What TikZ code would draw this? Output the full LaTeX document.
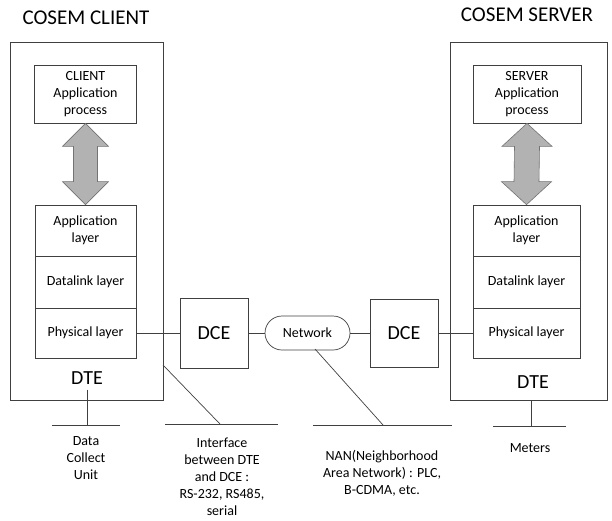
\documentclass[tikz,border=0pt]{standalone}
\usepackage{fontspec}
\setmainfont{Carlito}
\usetikzlibrary{calc}
\begin{document}
\begin{tikzpicture}[x=1pt,y=-1pt,
  ln/.style={draw=black!75, line width=0.7pt},
  box/.style={ln, inner sep=0pt, align=center, font=\fontsize{14}{17}\selectfont},
  big/.style={inner sep=0pt, font=\fontsize{20}{24}\selectfont},
  ttl/.style={inner sep=0pt, font=\fontsize{21}{25}\selectfont},
  lbl/.style={inner sep=0pt, align=center, font=\fontsize{14}{17}\selectfont},
  dbl/.style={fill=black!30, draw=black!55, line width=0.6pt}]
\useasboundingbox (0,0) rectangle (612,520);
% client
\node[box, minimum width=153pt, minimum height=358pt] (cliOuter) at (86.5,221) {};
\node[ttl] (cliTitle) at (86,18) {COSEM CLIENT};
\node[box, minimum width=102pt, minimum height=58pt] (cliApp) at (85.5,94) {CLIENT\\Application\\process};
\node[box, minimum width=101pt, minimum height=51pt] (cliAL) at (85.5,230.5) {Application\\layer};
\node[box, minimum width=101pt, minimum height=52pt] (cliDL) at (85.5,282) {Datalink layer};
\node[box, minimum width=101pt, minimum height=50pt] (cliPL) at (85.5,333) {Physical layer};
\node[big] (cliDTE) at (87,378) {DTE};
\coordinate (ca1) at (cliApp.south);
\coordinate (ca2) at (cliAL.north);
\draw[dbl] (ca1) -- ($(ca1)+(23,23)$) -- ($(ca1)+(12,23)$) -- ($(ca2)+(12,-23)$) -- ($(ca2)+(23,-23)$) -- (ca2) -- ($(ca2)+(-23,-23)$) -- ($(ca2)+(-12,-23)$) -- ($(ca1)+(-12,23)$) -- ($(ca1)+(-23,23)$) -- cycle;
% server
\node[box, minimum width=157pt, minimum height=358pt] (srvOuter) at (528.5,221) {};
\node[ttl] (srvTitle) at (527,15) {COSEM SERVER};
\node[box, minimum width=108pt, minimum height=58pt] (srvApp) at (527,94) {SERVER\\Application\\process};
\node[box, minimum width=107pt, minimum height=51pt] (srvAL) at (526.5,230.5) {Application\\layer};
\node[box, minimum width=107pt, minimum height=52pt] (srvDL) at (526.5,282) {Datalink layer};
\node[box, minimum width=107pt, minimum height=50pt] (srvPL) at (526.5,333) {Physical layer};
\node[big] (srvDTE) at (533,382) {DTE};
\coordinate (sa1) at (srvApp.south);
\coordinate (sa2) at (srvAL.north);
\draw[dbl] (sa1) -- ($(sa1)+(25,23)$) -- ($(sa1)+(12.5,23)$) -- ($(sa2)+(12.5,-23)$) -- ($(sa2)+(25,-23)$) -- (sa2) -- ($(sa2)+(-25,-23)$) -- ($(sa2)+(-12.5,-23)$) -- ($(sa1)+(-12.5,23)$) -- ($(sa1)+(-25,23)$) -- cycle;
% middle
\node[box, font=\fontsize{20}{24}\selectfont, minimum width=68pt, minimum height=70pt] (dce1) at (214,333) {DCE};
\node[box, rounded corners=17pt, minimum width=85pt, minimum height=34pt] (net) at (307.5,333) {Network};
\node[box, font=\fontsize{20}{24}\selectfont, minimum width=68pt, minimum height=68pt] (dce2) at (404,333) {DCE};
\draw[ln] (cliPL.east) -- (dce1.west);
\draw[ln] (dce1.east) -- (net.west);
\draw[ln] (net.east) -- (dce2.west);
\draw[ln] (dce2.east) -- (srvPL.west);
% annotation lines
\coordinate (dcuT) at (87,425);
\coordinate (dcuL) at (52,425);
\coordinate (dcuR) at (120,425);
\draw[ln] ($(cliDTE.south)+(0,5)$) -- (dcuT);
\draw[ln] (dcuL) -- (dcuR);
\coordinate (ifA) at (163,365);
\coordinate (ifB) at (220,424);
\coordinate (ifL) at (165,424);
\coordinate (ifR) at (278,424);
\draw[ln] (ifA) -- (ifB);
\draw[ln] (ifL) -- (ifR);
\coordinate (nanA) at (315,349);
\coordinate (nanB) at (383,425);
\coordinate (nanL) at (313,425);
\coordinate (nanR) at (452,425);
\draw[ln] (nanA) -- (nanB);
\draw[ln] (nanL) -- (nanR);
\coordinate (mtT) at (531,426);
\coordinate (mtL) at (493,426);
\coordinate (mtR) at (566,426);
\draw[ln] (mtT |- srvOuter.south) -- (mtT);
\draw[ln] (mtL) -- (mtR);
% labels
\node[lbl] (dcu) at (86,458) {Data\\Collect\\Unit};
\node[lbl] (ifc) at (222,477) {Interface\\between DTE\\and DCE :\\RS-232, RS485,\\serial};
\node[lbl] (nan) at (382,473) {NAN(Neighborhood\\Area Network) : PLC,\\B-CDMA, etc.};
\node[lbl] (mtr) at (530,448) {Meters};
\end{tikzpicture}
\end{document}
